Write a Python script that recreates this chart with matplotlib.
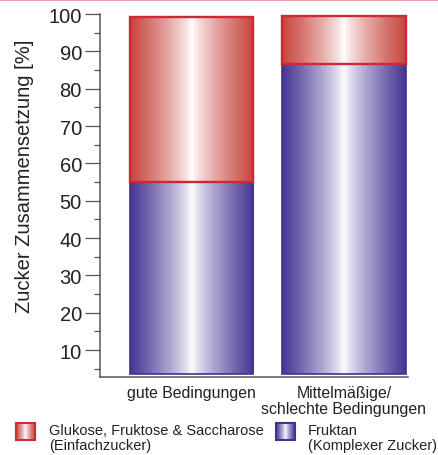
import numpy as np
import matplotlib
matplotlib.use("Agg")
import matplotlib.pyplot as plt
from matplotlib.colors import to_rgb
from matplotlib.patches import Rectangle

# Werte (Prozent)
categories = ["gute Bedingungen", "Mittelmäßige/\nschlechte Bedingungen"]
fruktan_top = [54.9, 86.6]      # obere Kante des Fruktan-Anteils
gesamt_top = [99.2, 99.5]       # obere Kante des ganzen Balkens
yticks = [10, 20, 30, 40, 50, 60, 70, 80, 90, 100]
legend_labels = ["Glukose, Fruktose & Saccharose\n(Einfachzucker)",
                 "Fruktan\n(Komplexer Zucker)"]

BAR_BASE = 3.6
RED_FILL, RED_EDGE = "#c6443c", "#cc2836"
BLUE_FILL, BLUE_EDGE = "#463594", "#41328f"
FONT = "Liberation Sans"
TXT = "#222222"
AX_COL = "#555555"


def gradient(edge, n=256):
    # dunkel am Rand, weiß in der Mitte
    t = np.abs(np.linspace(-1, 1, n)) ** 0.8
    c = np.array(to_rgb(edge))
    rgb = 1 - t[:, None] * (1 - c)
    return rgb[None, :, :]


plt.rcParams["font.family"] = [FONT, "DejaVu Sans"]

fig = plt.figure(figsize=(4.38, 4.56), dpi=100)
ax = fig.add_axes([100 / 438, 78 / 456, 308 / 438, 363 / 456])

x = np.arange(len(categories))
width = 0.81
fru_h = np.array(fruktan_top) - BAR_BASE
ein_h = np.array(gesamt_top) - np.array(fruktan_top)

blue_bars = ax.bar(x, fru_h, width, bottom=BAR_BASE, facecolor="none",
                   edgecolor=BLUE_EDGE, linewidth=1.2, zorder=3)
red_bars = ax.bar(x, ein_h, width, bottom=fruktan_top, facecolor="none",
                  edgecolor=RED_EDGE, linewidth=1.7, zorder=3)

for bars, col in ((blue_bars, BLUE_FILL), (red_bars, RED_FILL)):
    for p in bars:
        x0, y0 = p.get_x(), p.get_y()
        ax.imshow(gradient(col), extent=(x0, x0 + p.get_width(), y0, y0 + p.get_height()),
                  aspect="auto", interpolation="bilinear", zorder=2)

ax.set_xlim(-0.6, 1.42)
ax.set_ylim(2.8, 100)

ax.set_yticks(yticks)
ax.set_yticks([v - 5 for v in yticks], minor=True)
ax.tick_params(axis="y", which="major", length=11, width=0.9, color=AX_COL,
               labelsize=14.5, labelcolor=TXT, pad=2)
ax.tick_params(axis="y", which="minor", length=4, width=0.9, color=AX_COL)
ax.set_xticks(x)
ax.set_xticklabels(categories, fontsize=11.4, color=TXT, linespacing=1.05)
ax.tick_params(axis="x", length=0, pad=6)

for s in ("top", "right"):
    ax.spines[s].set_visible(False)
for s in ("left", "bottom"):
    ax.spines[s].set_color(AX_COL)
    ax.spines[s].set_linewidth(1.1)

fig.text(25 / 438, 1 - 176 / 456, "Zucker Zusammensetzung [%]", rotation=90,
         ha="center", va="center", fontsize=14.5, color=TXT)

# Legende und roter Rand oben, in Pixelkoordinaten
lax = fig.add_axes([0, 0, 1, 1], zorder=-1)
lax.set_xlim(0, 438)
lax.set_ylim(456, 0)
lax.axis("off")
lax.axhline(0.6, color="#e48a97", linewidth=1.2)

for (bx, tx), col, edge, lab in zip(((16, 49), (276, 308)),
                                     (RED_FILL, BLUE_FILL),
                                     (RED_EDGE, BLUE_EDGE), legend_labels):
    lax.imshow(gradient(col), extent=(bx, bx + 19, 441, 424), aspect="auto",
               interpolation="bilinear")
    lax.add_patch(Rectangle((bx, 424), 19, 17, fill=False, edgecolor=edge, linewidth=1.5))
    lax.text(tx, 424, lab, ha="left", va="top", fontsize=10.5, color=TXT,
             linespacing=1.05)

fig.savefig("out.png", dpi=100)
